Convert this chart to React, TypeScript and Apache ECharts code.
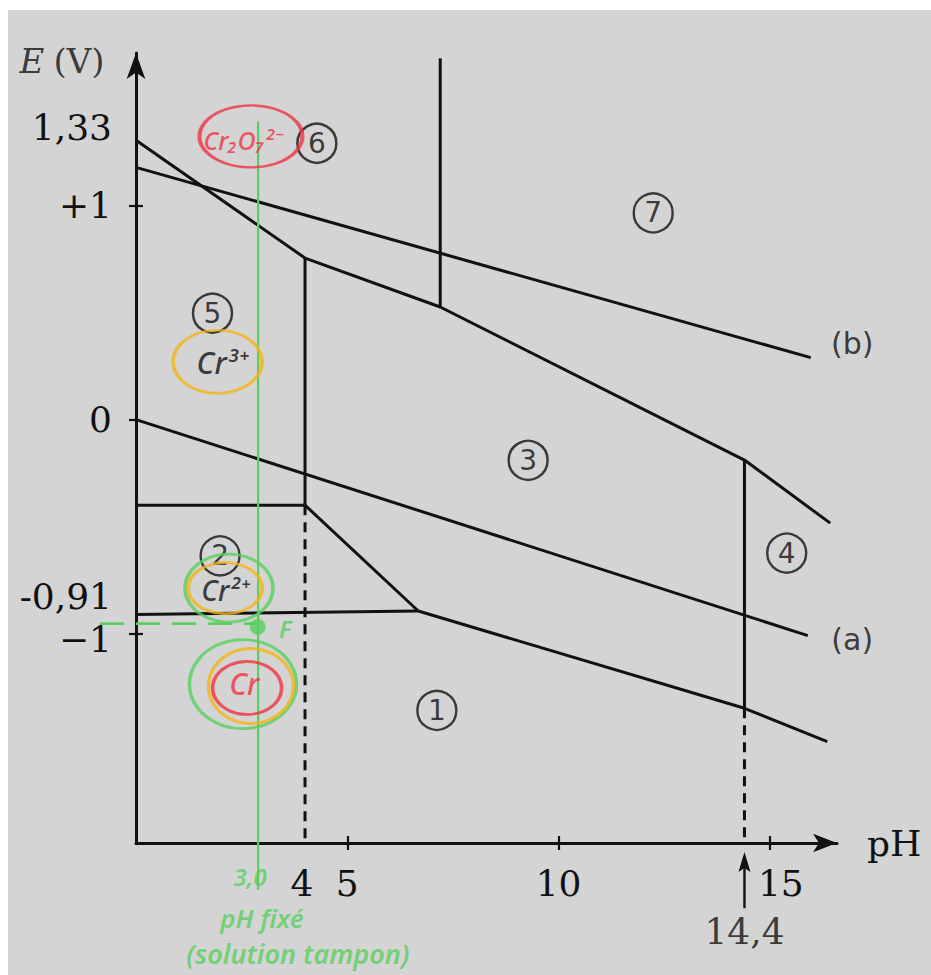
import React, { useEffect, useRef } from "react";
import * as echarts from "echarts";

// ---- axes ----
const xTickLabelValues = [4, 5, 10, 15];
const xTickMarkValues = [5, 10, 15];
const yTickValues = [1.33, 1, 0, -0.91, -1];
const yTickLabels = ["1,33", "+1", "0", "-0,91", "\u22121"];
const yTickMarkOutside = [1, 0, -1];
const yTickMarkInside = [1, -1];

// ---- boundary lines [pH, E(V)] ----
const lineB = [[0, 1.18], [15.97, 0.29]];
const lineA = [[0, 0], [15.9, -1.01]];
const crVI_crIII = [[0, 1.307], [4, 0.756], [7.2, 0.527], [14.4, -0.189], [16.43, -0.484]];
const vert72 = [[7.2, 1.69], [7.2, 0.527]];
const vert4 = [[4, 0.756], [4, -0.4]];
const vert4Dashed = [[4, -0.4], [4, -1.98]];
const crIII_crII = [[0, -0.4], [4, -0.4]];
const crIII_cr = [[4, -0.4], [6.68, -0.895]];
const crII_cr = [[0, -0.911], [6.68, -0.895]];
const crOH_cr = [[6.68, -0.895], [14.4, -1.35], [16.36, -1.506]];
const vert144 = [[14.4, -0.189], [14.4, -1.35]];
const vert144Dashed = [[14.4, -1.35], [14.4, -1.98]];
const arrow144 = [[14.4, -2.285], [14.4, -2.022]];
const label144 = [14.4, -2.396];

// ---- region numbers ----
const regionIds = ["1", "2", "3", "4", "5", "6", "7"];
const regionPoints = [
  [7.12, -1.36], [1.99, -0.637], [9.28, -0.19], [15.4, -0.624],
  [1.81, 0.498], [4.28, 1.293], [12.24, 0.967],
];

// ---- line names ----
const lineNames = ["(b)", "(a)"];
const lineNamePoints = [[16.95, 0.355], [16.95, -1.03]];

// ---- hand annotations ----
const phFixed = 2.89;
const greenVertical = [[phFixed, 1.395], [phFixed, -2.2]];
const greenDashed = [[-0.85, -0.954], [phFixed, -0.954]];
const pointF = [2.88, -0.969];
const ellipseCenters = [
  [2.72, 1.325], [1.93, 0.271], [2.2, -0.788], [2.11, -0.788],
  [2.53, -1.237], [2.72, -1.246], [2.63, -1.255],
];
const ellipseSizes = [[103, 62], [89, 63], [88, 68], [74, 51], [107, 89], [85, 75], [69, 53]];
const ellipseColors = ["red", "orange", "green", "orange", "green", "orange", "red"];
const speciesTexts = ["Cr\u2082O\u2087\u00B2\u207B", "Cr\u00B3\u207A", "Cr\u00B2\u207A", "Cr"];
const speciesPoints = [[2.53, 1.31], [2.04, 0.268], [2.11, -0.797], [2.56, -1.232]];
const speciesColors = ["red", "black", "black", "red"];
const speciesSizes = [25, 30, 28, 30];
const greenTexts = ["F", "3,0", "pH fix\u00E9", "(solution tampon)"];
const greenTextPoints = [[3.53, -0.975], [2.7, -2.135], [2.98, -2.33], [3.83, -2.495]];
const greenTextSizes = [24, 24, 26, 27];

const COLORS: Record<string, string> = {
  red: "#ef3340",
  orange: "#f3b519",
  green: "#58cf5e",
  black: "#111111",
};
const INK = "#111111";
const SERIF = "DejaVu Serif";
const SANS = "DejaVu Sans";

const yLabelShift = ["u1", "n", "n", "u2", "d1"];

function seg(data: number[][], dashed = false) {
  return {
    type: "line",
    data,
    symbol: "none",
    clip: false,
    silent: true,
    z: 3,
    lineStyle: { color: INK, width: 3, type: dashed ? [10, 7] : "solid", cap: "butt" },
  };
}

export default function App() {
  const ref = useRef<HTMLDivElement>(null);

  useEffect(() => {
    if (!ref.current) return;
    const chart = echarts.init(ref.current, null, { renderer: "svg" });

    const base = { fontSize: 36, fontFamily: SERIF, color: INK };
    const option: any = {
      animation: false,
      backgroundColor: "transparent",
      grid: { left: 136, right: 94, top: 53, bottom: 132, containLabel: false },
      xAxis: [
        {
          type: "value",
          min: 0,
          max: 16.59,
          axisLine: {
            show: true,
            onZero: false,
            symbol: ["none", "arrow"],
            symbolSize: [14, 24],
            lineStyle: { color: INK, width: 3 },
          },
          axisTick: { show: true, customValues: xTickMarkValues, length: 7, lineStyle: { color: INK, width: 2.2 } },
          axisLabel: {
            show: true,
            customValues: xTickLabelValues,
            margin: 22,
            formatter: (v: number) => {
              const s = String(v);
              if (v === 4) return `{l|${s}}`;
              if (v === 15) return `{r|${s}}`;
              return `{n|${s}}`;
            },
            rich: {
              n: { ...base },
              l: { ...base, padding: [0, 6, 0, 0] },
              r: { ...base, padding: [0, 0, 0, 22] },
            },
          },
          splitLine: { show: false },
          name: "pH",
          nameLocation: "end",
          nameGap: 30,
          nameTextStyle: { ...base, align: "left", verticalAlign: "middle", padding: [6, 0, 0, 0] },
        },
        {
          type: "value",
          min: 0,
          max: 16.59,
          position: "bottom",
          axisLine: { show: false, onZero: false },
          axisTick: { show: true, inside: true, customValues: xTickMarkValues, length: 7, lineStyle: { color: INK, width: 2.2 } },
          axisLabel: { show: false },
          splitLine: { show: false },
        },
      ],
      yAxis: [
        {
          type: "value",
          min: -1.98,
          max: 1.715,
          axisLine: {
            show: true,
            onZero: false,
            symbol: ["none", "arrow"],
            symbolSize: [14, 26],
            lineStyle: { color: INK, width: 3 },
          },
          axisTick: { show: true, customValues: yTickMarkOutside, length: 7, lineStyle: { color: INK, width: 2.2 } },
          axisLabel: {
            show: true,
            customValues: yTickValues,
            margin: 24,
            formatter: (v: number) => {
              const i = yTickValues.findIndex((t) => Math.abs(t - v) < 1e-6);
              if (i < 0) return "";
              return `{${yLabelShift[i]}|${yTickLabels[i]}}`;
            },
            rich: {
              n: { ...base },
              u1: { ...base, padding: [0, 0, 15, 0] },
              u2: { ...base, padding: [0, 0, 36, 0] },
              d1: { ...base, padding: [12, 0, 0, 0] },
            },
          },
          splitLine: { show: false },
        },
        {
          type: "value",
          min: -1.98,
          max: 1.715,
          position: "left",
          axisLine: { show: false, onZero: false },
          axisTick: { show: true, inside: true, customValues: yTickMarkInside, length: 7, lineStyle: { color: INK, width: 2.2 } },
          axisLabel: { show: false },
          splitLine: { show: false },
        },
      ],
      series: [
        seg(lineB),
        seg(lineA),
        seg(crVI_crIII),
        seg(vert72),
        seg(vert4),
        seg(vert4Dashed, true),
        seg(crIII_crII),
        seg(crIII_cr),
        seg(crII_cr),
        seg(crOH_cr),
        seg(vert144),
        seg(vert144Dashed, true),
        // 14,4 label
        {
          type: "scatter",
          clip: false,
          silent: true,
          symbolSize: 0,
          data: [{ value: label144, name: "14,4" }],
          label: { show: true, position: "inside", formatter: "{b}", ...base },
        },
        // E (V) axis title
        {
          type: "scatter",
          clip: false,
          silent: true,
          symbolSize: 0,
          data: [{ value: [-1.75, 1.678], name: "E" }],
          label: {
            show: true,
            position: "inside",
            formatter: "{i|E}{s| }{n|(V)}",
            rich: {
              i: { fontSize: 34, fontFamily: SERIF, fontStyle: "italic", color: INK },
              s: { fontSize: 34, fontFamily: SERIF, width: 9 },
              n: { fontSize: 34, fontFamily: SERIF, color: INK },
            },
          },
        },
        // region numbers
        {
          type: "scatter",
          clip: false,
          silent: true,
          symbol: "circle",
          symbolSize: 39,
          itemStyle: { color: "rgba(0,0,0,0)", borderColor: INK, borderWidth: 2.4 },
          data: regionPoints.map((p, i) => ({ value: p, name: regionIds[i] })),
          label: { show: true, position: "inside", formatter: "{b}", fontSize: 28, fontFamily: SANS, color: INK },
          z: 4,
        },
        // (a) (b)
        {
          type: "scatter",
          clip: false,
          silent: true,
          symbolSize: 0,
          data: lineNamePoints.map((p, i) => ({ value: p, name: lineNames[i] })),
          label: { show: true, position: "inside", formatter: "{b}", fontSize: 30, fontFamily: SANS, color: INK },
        },
        // green vertical (pH fixed)
        {
          type: "line",
          data: greenVertical,
          symbol: "none",
          clip: false,
          silent: true,
          z: 6,
          lineStyle: { color: COLORS.green, width: 2.2 },
        },
        {
          type: "scatter",
          clip: false,
          silent: true,
          symbolSize: 16,
          z: 7,
          itemStyle: { color: COLORS.green },
          data: [pointF],
        },
        // ellipses
        {
          type: "scatter",
          clip: false,
          silent: true,
          z: 6,
          data: ellipseCenters.map((p, i) => ({
            value: p,
            symbolSize: ellipseSizes[i],
            itemStyle: { color: "rgba(0,0,0,0)", borderColor: COLORS[ellipseColors[i]], borderWidth: 3.2 },
          })),
        },
        // species text
        {
          type: "scatter",
          clip: false,
          silent: true,
          symbolSize: 0,
          z: 7,
          data: speciesPoints.map((p, i) => ({
            value: p,
            name: speciesTexts[i],
            label: { color: COLORS[speciesColors[i]], fontSize: speciesSizes[i] },
          })),
          label: { show: true, position: "inside", formatter: "{b}", fontFamily: "Noto Sans", fontStyle: "italic", fontWeight: 500 },
        },
        // green texts
        {
          type: "scatter",
          clip: false,
          silent: true,
          symbolSize: 0,
          z: 7,
          data: greenTextPoints.map((p, i) => ({
            value: p,
            name: greenTexts[i],
            label: { fontSize: greenTextSizes[i] },
          })),
          label: {
            show: true,
            position: "inside",
            formatter: "{b}",
            fontFamily: "Noto Sans",
            fontStyle: "italic",
            fontWeight: 600,
            color: COLORS.green,
            lineHeight: 26,
          },
        },
      ],
    };

    chart.setOption(option);

    // annotations that extend beyond the axis range: placed through the chart's own scales
    const px = (d: number[]) => chart.convertToPixel({ gridIndex: 0 }, d) as number[];
    const g0 = px(greenDashed[0]);
    const g1 = px(greenDashed[1]);
    const a0 = px(arrow144[0]);
    const a1 = px(arrow144[1]);
    chart.setOption({
      graphic: [
        {
          type: "line",
          z: 20,
          silent: true,
          shape: { x1: g0[0], y1: g0[1], x2: g1[0], y2: g1[1] },
          style: { stroke: COLORS.green, lineWidth: 2.6, lineDash: [24, 12] },
        },
        {
          type: "line",
          z: 20,
          silent: true,
          shape: { x1: a0[0], y1: a0[1], x2: a1[0], y2: a1[1] + 12 },
          style: { stroke: INK, lineWidth: 2.4 },
        },
        {
          type: "polygon",
          z: 20,
          silent: true,
          shape: { points: [[a1[0], a1[1]], [a1[0] - 6, a1[1] + 20], [a1[0], a1[1] + 16], [a1[0] + 6, a1[1] + 20]] },
          style: { fill: INK },
        },
      ],
    });

    return () => chart.dispose();
  }, []);

  return (
    <div style={{ position: "fixed", left: 0, top: 0, width: 931, height: 975, background: "#ffffff" }}>
      <div style={{ position: "absolute", left: 8, top: 10, width: 923, height: 965, background: "#d4d4d4" }} />
      <div ref={ref} style={{ position: "absolute", left: 0, top: 0, width: 931, height: 975 }} />
    </div>
  );
}
